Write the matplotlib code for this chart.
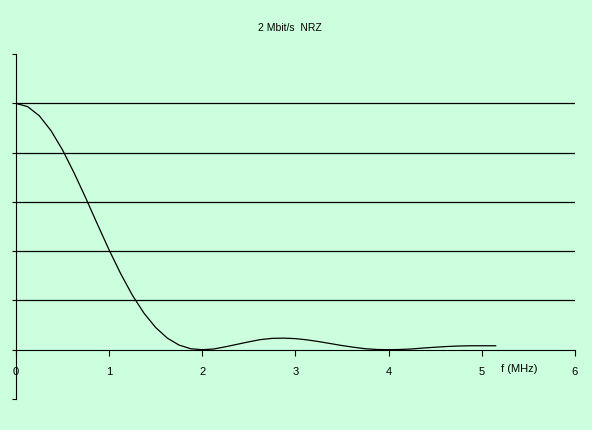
import matplotlib.pyplot as plt

# Spectrum of 2 Mbit/s NRZ signal
freq = [0, 0.125, 0.25, 0.375, 0.5, 0.625, 0.75, 0.875, 1.0, 1.125, 1.25,
        1.375, 1.5, 1.625, 1.75, 1.875, 2.0, 2.125, 2.25, 2.375, 2.5, 2.625,
        2.75, 2.875, 3.0, 3.125, 3.25, 3.375, 3.5, 3.625, 3.75, 3.875, 4.0,
        4.125, 4.25, 4.375, 4.5, 4.625, 4.75, 4.875, 5.0, 5.15]
power = [1.0, 0.987, 0.950, 0.890, 0.811, 0.717, 0.615, 0.509, 0.405, 0.308,
         0.221, 0.148, 0.090, 0.047, 0.019, 0.004, 0.0, 0.003, 0.012, 0.022,
         0.032, 0.041, 0.046, 0.047, 0.045, 0.040, 0.033, 0.025, 0.017, 0.010,
         0.004, 0.001, 0.0, 0.001, 0.003, 0.007, 0.010, 0.013, 0.015, 0.016,
         0.016, 0.016]
grid_levels = [0.2, 0.4, 0.6, 0.8, 1.0]
x_ticks = [0, 1, 2, 3, 4, 5, 6]

bg = "#CCFFDD"
fig = plt.figure(figsize=(5.92, 4.31), dpi=100, facecolor=bg)
ax = fig.add_axes([0.027, 0.072, 0.944, 0.8])
ax.set_facecolor(bg)

for lvl in grid_levels:
    ax.axhline(lvl, color="black", lw=0.9)

ax.plot(freq, power, color="black", lw=0.9)

ax.set_xlim(0, 6)
ax.set_ylim(-0.2, 1.2)
ax.spines["top"].set_visible(False)
ax.spines["right"].set_visible(False)
ax.spines["bottom"].set_position(("data", 0))
ax.set_xticks(x_ticks)
ax.set_xticklabels([str(t) for t in x_ticks], fontsize=8, family="Liberation Sans")
ax.tick_params(axis="x", direction="out", length=4, pad=8)
ax.set_yticks([-0.2, 0, 0.2, 0.4, 0.6, 0.8, 1.0, 1.2])
ax.set_yticklabels([])
ax.tick_params(axis="y", direction="out", length=3)

ax.text(5.4, -0.075, "f (MHz)", fontsize=8, ha="center", va="center",
        family="Liberation Sans")
fig.text(0.49, 0.935, "2 Mbit/s  NRZ", fontsize=7.5, ha="center", va="center",
         family="Liberation Sans")

fig.savefig("out.png", dpi=100, facecolor=bg)
